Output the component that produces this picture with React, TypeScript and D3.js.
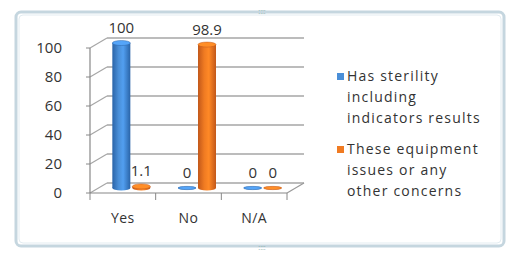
import * as d3 from "d3";

const categories = ["Yes", "No", "N/A"];
const seriesNames = [
  ["Has sterility", "including", "indicators results"],
  ["These equipment", "issues or any", "other concerns"],
];
const sterility = [100, 0, 0];
const equipment = [1.1, 98.9, 0];
const yTicks = [0, 20, 40, 60, 80, 100];
const colors = ["#4a8fd8", "#f07b22"];
const darks = ["#2a64a8", "#c2581a"];

const font = "'Open Sans', 'DejaVu Sans', sans-serif";

export default function App() {
  const W = 506;
  const H = 254;
  // front plane of the 3D plot
  const x = d3.scaleBand().domain(categories).range([90, 287]);
  const y = d3.scaleLinear().domain([0, 100]).range([193, 48]);
  const dx = 17;
  const dy = -10;
  const mx = dx / 2;
  const my = dy / 2;
  const barW = 18;
  const gap = 2;
  const series = [sterility, equipment];

  return (
    <svg width={W} height={H} style={{ position: "absolute", left: 0, top: 0 }}>
      <defs>
        {colors.map((c, i) => (
          <linearGradient key={i} id={"cyl" + i} x1="0" x2="1" y1="0" y2="0">
            <stop offset="0" stopColor={darks[i]} />
            <stop offset="0.35" stopColor={c} />
            <stop offset="0.6" stopColor={d3.color(c)!.brighter(0.3).toString()} />
            <stop offset="1" stopColor={darks[i]} />
          </linearGradient>
        ))}
      </defs>
      <rect width={W} height={H} fill="#fff" />
      {/* frame */}
      <rect x={16} y={12} width={488} height={234} rx={5} fill="none" stroke="#c5d6df" strokeWidth={3} />
      <rect x={19} y={15} width={482} height={228} rx={4} fill="none" stroke="#e3ecf1" strokeWidth={1} />
      <text x={262} y={14} fontSize={7} fill="#8aa" textAnchor="middle" fontFamily={font}>::::</text>
      <text x={262} y={250} fontSize={7} fill="#8aa" textAnchor="middle" fontFamily={font}>::::</text>

      {/* back wall gridlines and side wall */}
      {yTicks.map((t) => (
        <g key={t}>
          <line x1={90 + dx} x2={287 + dx} y1={y(t) + dy} y2={y(t) + dy} stroke="#a6a6a6" strokeWidth={1.5} />
          <line x1={90} x2={90 + dx} y1={y(t)} y2={y(t) + dy} stroke="#a6a6a6" strokeWidth={1.2} />
          <line x1={86} x2={90} y1={y(t)} y2={y(t)} stroke="#888" />
          <text x={62} y={y(t) + 5} fontSize={15} fill="#333" textAnchor="end" fontFamily={font}>
            {t}
          </text>
        </g>
      ))}
      {/* axes and floor */}
      <line x1={90} x2={90} y1={y(100)} y2={y(0)} stroke="#888" strokeWidth={1.2} />
      <line x1={90} x2={287} y1={y(0)} y2={y(0)} stroke="#888" strokeWidth={1.2} />
      <line x1={287} x2={287 + dx} y1={y(0)} y2={y(0) + dy} stroke="#999" strokeWidth={1.2} />
      {[...categories.map((c) => x(c)!), 287].map((v, i) => (
        <line key={i} x1={v} x2={v} y1={y(0)} y2={y(0) + 7} stroke="#888" />
      ))}
      {categories.map((c) => (
        <text key={c} x={x(c)! + x.bandwidth() / 2} y={223} fontSize={14} letterSpacing={0.5} fill="#333" textAnchor="middle" fontFamily={font}>
          {c}
        </text>
      ))}

      {/* cylinders */}
      {series.map((vals, si) =>
        vals.map((v, ci) => {
          const cx = x(categories[ci])! + x.bandwidth() / 2 + mx;
          const left = si === 0 ? cx - gap / 2 - barW : cx + gap / 2;
          const top = y(v) + my;
          const bottom = y(0) + my;
          const ry = v === 0 ? 1.6 : 2.5;
          return (
            <g key={si + "-" + ci}>
              <rect x={left} y={top} width={barW} height={bottom - top} fill={`url(#cyl${si})`} />
              <ellipse cx={left + barW / 2} cy={bottom} rx={barW / 2} ry={ry} fill={`url(#cyl${si})`} />
              <ellipse cx={left + barW / 2} cy={top} rx={barW / 2} ry={ry} fill={d3.color(colors[si])!.brighter(0.4).toString()} stroke={darks[si]} strokeWidth={0.5} />
              <text x={left + barW / 2} y={top - 10} fontSize={15} fill="#333" textAnchor="middle" fontFamily={font}>
                {v}
              </text>
            </g>
          );
        })
      )}

      {/* legend */}
      {seriesNames.map((lines, si) => (
        <g key={si} transform={`translate(337, ${76 + si * 73})`}>
          <rect x={0} y={-3} width={7} height={7} fill={colors[si]} />
          {lines.map((l, li) => (
            <text key={li} x={10} y={5 + li * 21} fontSize={14} letterSpacing={1.2} fill="#333" fontFamily={font}>
              {l}
            </text>
          ))}
        </g>
      ))}
    </svg>
  );
}
